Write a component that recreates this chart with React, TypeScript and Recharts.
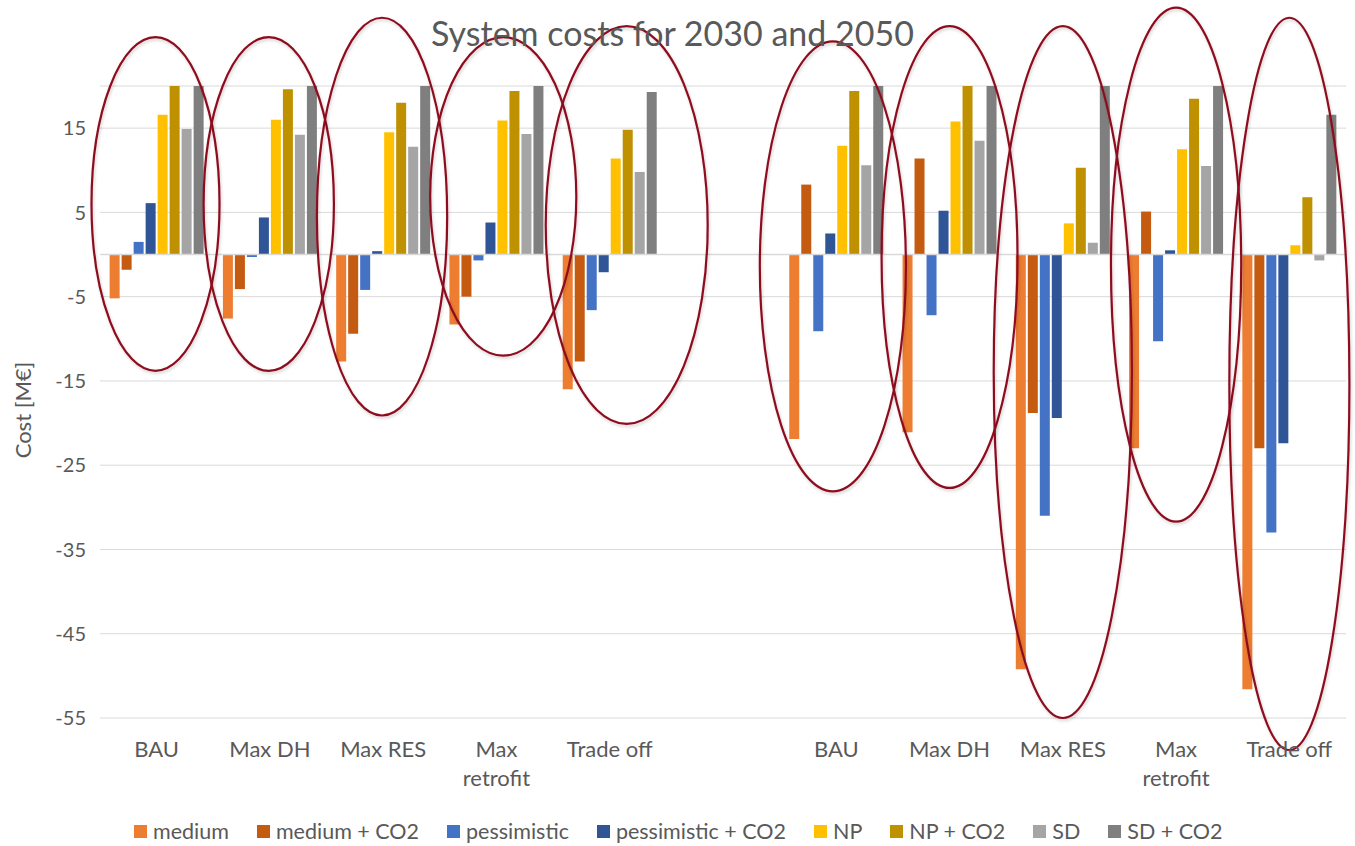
import React from 'react';
import { BarChart, Bar, XAxis, YAxis, CartesianGrid, Legend, ReferenceArea, ReferenceLine } from 'recharts';

const categories = ['BAU', 'Max DH', 'Max RES', 'Max retrofit', 'Trade off', '', 'BAU', 'Max DH', 'Max RES', 'Max retrofit', 'Trade off'];

const medium = [-5.2, -7.6, -12.7, -8.3, -16.0, null, -21.9, -21.1, -49.2, -23.0, -51.6];
const mediumCO2 = [-1.8, -4.1, -9.4, -5.0, -12.7, null, 8.3, 11.4, -18.8, 5.1, -23.0];
const pessimistic = [1.5, -0.3, -4.2, -0.7, -6.6, null, -9.1, -7.2, -31.0, -10.3, -33.0];
const pessimisticCO2 = [6.1, 4.4, 0.4, 3.8, -2.1, null, 2.5, 5.2, -19.4, 0.5, -22.4];
const np = [16.6, 16.0, 14.5, 15.9, 11.4, null, 12.9, 15.8, 3.7, 12.5, 1.1];
const npCO2 = [20, 19.6, 18.0, 19.4, 14.8, null, 19.4, 20, 10.3, 18.5, 6.8];
const sd = [14.9, 14.2, 12.8, 14.3, 9.8, null, 10.6, 13.5, 1.4, 10.5, -0.7];
const sdCO2 = [20, 20, 20, 20, 19.3, null, 20, 20, 20, 20, 16.6];

const yTicks = [-55, -45, -35, -25, -15, -5, 5, 15];

const seriesNames = ['medium', 'medium + CO2', 'pessimistic', 'pessimistic + CO2', 'NP', 'NP + CO2', 'SD', 'SD + CO2'];
const seriesValues = [medium, mediumCO2, pessimistic, pessimisticCO2, np, npCO2, sd, sdCO2];
const seriesColors = ['#ED7D31', '#C55A11', '#4472C4', '#2F5597', '#FFC000', '#BF9000', '#A5A5A5', '#7F7F7F'];

// annotation ellipses: category index, top value, bottom value, width factor, horizontal shift (band fraction)
const ellipseCats = [0, 1, 2, 3, 4, 6, 7, 8, 9, 10];
const ellipseTop = [25.8, 25.8, 28.1, 25.8, 27.1, 25.3, 27.1, 27.1, 29.3, 28.1];
const ellipseBottom = [-13.8, -13.8, -19.1, -12.0, -20.1, -28.1, -27.7, -55.0, -31.7, -58.8];
const ellipseWidth = [1.13, 1.15, 1.15, 1.29, 1.43, 1.29, 1.2, 1.22, 1.15, 1.06];
const ellipseShift = [-0.01, -0.01, -0.01, 0.06, 0.15, -0.03, 0, 0, 0, 0];

const ids = categories.map((_, i) => `c${i}`);
const data = categories.map((c, i) => {
  const row: any = { id: ids[i], label: c };
  seriesNames.forEach((s, k) => {
    row[s] = seriesValues[k][i];
  });
  return row;
});

const FONT = 'Lato, "Open Sans", sans-serif';
const TEXT = '#595959';
const TICK_FONT_SIZE = 22;
const TICK_WRAP_WIDTH = 100;

let measureCtx: CanvasRenderingContext2D | null = null;
const measure = (s: string) => {
  if (typeof document === 'undefined') return s.length * 10;
  if (!measureCtx) {
    const c = document.createElement('canvas');
    measureCtx = c.getContext('2d');
  }
  if (!measureCtx) return s.length * 10;
  measureCtx.font = `${TICK_FONT_SIZE}px Lato`;
  return measureCtx.measureText(s).width;
};

const wrapLabel = (label: string) => {
  const words = label.split(' ');
  const lines: string[] = [];
  let cur = '';
  words.forEach((w) => {
    const next = cur ? `${cur} ${w}` : w;
    if (cur && measure(next) > TICK_WRAP_WIDTH) {
      lines.push(cur);
      cur = w;
    } else {
      cur = next;
    }
  });
  if (cur) lines.push(cur);
  return lines;
};

const CategoryTick = (props: any) => {
  const { x, y, payload } = props;
  const idx = ids.indexOf(payload.value);
  const label = idx >= 0 ? categories[idx] : '';
  const lines = wrapLabel(label);
  return (
    <text x={x} y={y} textAnchor="middle" fill={TEXT} fontSize={TICK_FONT_SIZE} fontFamily={FONT}>
      {lines.map((l, i) => (
        <tspan key={i} x={x} dy={i === 0 ? 16 : 29}>
          {l}
        </tspan>
      ))}
    </text>
  );
};

const YLabel = (props: any) => {
  const vb = props.viewBox || {};
  const cy = (vb.y || 0) + (vb.height || 0) / 2 + 8;
  const cx = 22;
  return (
    <text
      x={cx}
      y={cy}
      transform={`rotate(-90 ${cx} ${cy})`}
      textAnchor="middle"
      dominantBaseline="central"
      fill={TEXT}
      fontSize={22}
      fontFamily={FONT}
    >
      Cost [M€]
    </text>
  );
};

const LegendContent = () => (
  <div style={{ height: 30, display: 'flex', alignItems: 'center', paddingLeft: 134, fontFamily: FONT, fontSize: 21.5, color: TEXT }}>
    {seriesNames.map((n, i) => (
      <div key={n} style={{ display: 'flex', alignItems: 'center', marginRight: 28 }}>
        <div style={{ width: 13, height: 13, background: seriesColors[i], marginRight: 6 }} />
        <span style={{ whiteSpace: 'nowrap' }}>{n}</span>
      </div>
    ))}
  </div>
);

const makeEllipse = (k: number) => (p: any) => {
  const { x, y, width, height } = p;
  const cx = x + width / 2 + ellipseShift[k] * width;
  const rx = (width / 2) * ellipseWidth[k];
  return (
    <ellipse
      cx={cx}
      cy={y + height / 2}
      rx={rx}
      ry={height / 2}
      fill="none"
      stroke="#8E0B1F"
      strokeWidth={2.2}
      filter="url(#ellShadow)"
    />
  );
};

export default function App() {
  return (
    <div style={{ position: 'absolute', left: 0, top: 0, width: 1355, height: 846, background: '#fff', fontFamily: FONT }}>
      <svg width={0} height={0} style={{ position: 'absolute' }}>
        <defs>
          <filter id="ellShadow" x="-20%" y="-20%" width="140%" height="140%">
            <feDropShadow dx="1" dy="2" stdDeviation="1.5" floodColor="#000" floodOpacity="0.18" />
          </filter>
        </defs>
      </svg>
      <div style={{ position: 'absolute', left: 0, top: 11, width: 1345, textAlign: 'center', fontSize: 34, color: TEXT, fontFamily: FONT, lineHeight: '44px', zIndex: 2 }}>
        System costs for 2030 and 2050
      </div>
      <BarChart
        width={1355}
        height={846}
        data={data}
        margin={{ top: 86, right: 9, left: 0, bottom: 0 }}
        barCategoryGap="8.5%"
        barGap={2}
      >
        <CartesianGrid vertical={false} stroke="#D9D9D9" strokeWidth={1} />
        <XAxis
          dataKey="id"
          type="category"
          axisLine={false}
          tickLine={false}
          tickSize={0}
          tickMargin={23}
          height={98}
          interval={0}
          tick={<CategoryTick />}
        />
        <YAxis
          type="number"
          domain={[-55, 20]}
          ticks={yTicks}
          allowDataOverflow
          axisLine={false}
          tickLine={false}
          width={100}
          tickMargin={8}
          tick={{ fill: TEXT, fontSize: 20, fontFamily: FONT }}
          label={<YLabel />}
        />
        <ReferenceLine y={0} stroke="#D9D9D9" strokeWidth={1.5} />
        {seriesNames.map((n, i) => (
          <Bar key={n} dataKey={n} name={n} fill={seriesColors[i]} isAnimationActive={false} />
        ))}
        {ellipseCats.map((c, k) => (
          <ReferenceArea
            key={`e${k}`}
            x1={ids[c]}
            x2={ids[c]}
            y1={ellipseBottom[k]}
            y2={ellipseTop[k]}
            ifOverflow="visible"
            shape={makeEllipse(k)}
            zIndex={1500}
          />
        ))}
        <Legend verticalAlign="bottom" content={<LegendContent />} />
      </BarChart>
    </div>
  );
}
